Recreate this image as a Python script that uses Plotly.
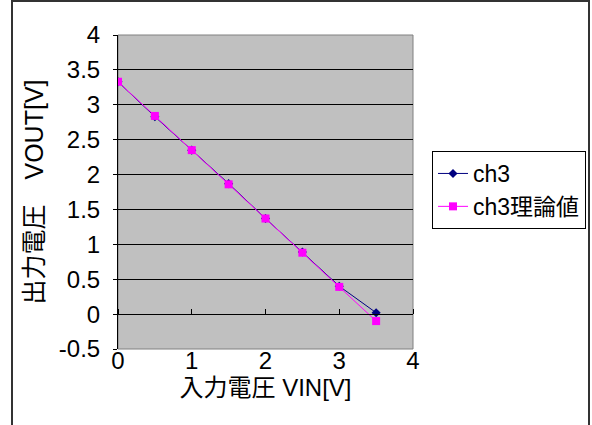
import plotly.graph_objects as go

# Input voltage steps [V]
vin = [0, 0.5, 1, 1.5, 2, 2.5, 3, 3.5]
# Measured output of ch3 [V]
ch3_measured = [3.33, 2.83, 2.35, 1.87, 1.37, 0.89, 0.40, 0.02]
# Theoretical output of ch3 [V]
ch3_theory = [3.33, 2.84, 2.35, 1.86, 1.37, 0.88, 0.39, -0.10]

y_ticks = [-0.5, 0, 0.5, 1, 1.5, 2, 2.5, 3, 3.5, 4]
y_tick_text = ["-0.5", "0", "0.5", "1", "1.5", "2", "2.5", "3", "3.5", "4"]
x_ticks = [0, 1, 2, 3, 4]
x_tick_text = ["0", "1", "2", "3", "4"]

W, H = 592, 425
L, R, T, B = 118, 179, 35, 76

font_main = "Liberation Sans, Noto Sans CJK JP, sans-serif"

fig = go.Figure()
fig.add_trace(go.Scatter(
    x=vin, y=ch3_measured, name="ch3", mode="lines+markers",
    line=dict(color="#000080", width=1),
    marker=dict(symbol="diamond", size=7, color="#000080"),
))
fig.add_trace(go.Scatter(
    x=vin, y=ch3_theory, name="ch3理論値", mode="lines+markers",
    line=dict(color="#FF00FF", width=1),
    marker=dict(symbol="square", size=8, color="#FF00FF"),
))

y_min, y_max = -0.5, 4
zero_frac = (0 - y_min) / (y_max - y_min)

fig.update_layout(
    width=W, height=H,
    margin=dict(l=L, r=R, t=T, b=B, autoexpand=False),
    paper_bgcolor="white",
    plot_bgcolor="#C0C0C0",
    font=dict(family=font_main, size=24, color="black"),
    showlegend=True,
    legend=dict(
        x=(432 - L) / (W - L - R), y=1 - (151 - T) / (H - T - B),
        xanchor="left", yanchor="top",
        bgcolor="white", bordercolor="black", borderwidth=1,
        font=dict(size=23, family=font_main),
        tracegroupgap=0, itemwidth=30,
    ),
    xaxis=dict(
        range=[0, 4], tickvals=x_ticks, ticktext=x_tick_text,
        showgrid=False, zeroline=False, showline=False,
        ticks="", tickfont=dict(size=24), ticklabelstandoff=-5,
        title=dict(text="入力電圧 VIN[V]", font=dict(size=24), standoff=4),
    ),
    xaxis2=dict(
        range=[0, 4], overlaying="x", anchor="free", side="top",
        position=zero_frac, tickvals=x_ticks, showticklabels=False,
        ticks="outside", ticklen=5, tickcolor="black",
        showline=True, linecolor="black", linewidth=1,
        showgrid=False, zeroline=False,
    ),
    yaxis=dict(
        range=[y_min, y_max], tickvals=y_ticks, ticktext=y_tick_text,
        showgrid=True, gridcolor="black", gridwidth=1,
        zeroline=False, showline=True, linecolor="black", linewidth=1,
        ticks="outside", ticklen=4, tickcolor="black",
        tickfont=dict(size=24), ticklabelstandoff=8,
        title=dict(text="出力電圧　VOUT[V]", font=dict(size=25), standoff=8),
    ),
)

# invisible trace to activate the overlay axis that marks the y=0 line
fig.add_trace(go.Scatter(x=[None], y=[None], xaxis="x2", showlegend=False,
                         hoverinfo="skip"))

# plot-area frame and chart border
fig.add_shape(type="rect", xref="x domain", yref="y domain",
              x0=0, x1=1, y0=0, y1=1, line=dict(color="#808080", width=1),
              layer="below")
pw, ph = W - L - R, H - T - B
fig.add_shape(type="rect", xref="paper", yref="paper",
              x0=(12 - L) / pw, x1=(589 - L) / pw,
              y0=-(H - T + 20 - ph) / ph, y1=1 + (T - 1) / ph,
              line=dict(color="#333333", width=2))

fig.write_html("out.html")
